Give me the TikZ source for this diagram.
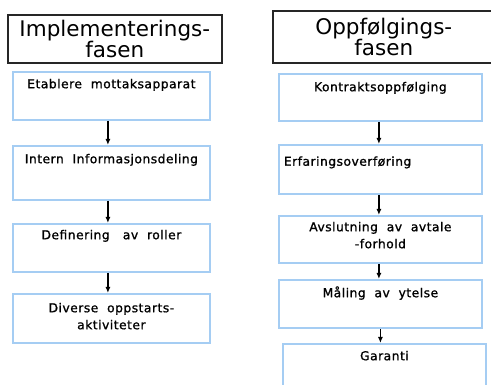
\documentclass[tikz,border=0pt]{standalone}
\usepackage{fontspec}
\setmainfont{DejaVu Sans}
\newfontfamily\stepfont{DejaVu Sans}[LetterSpace=4,FakeBold=1.2]
\usetikzlibrary{arrows.meta}
\definecolor{boxblue}{RGB}{165,205,243}
\tikzset{
  phasebox/.style={draw=black!85, line width=1.6pt, anchor=north west, align=center, inner sep=0pt, font=\fontsize{21.5}{21}\selectfont},
  stepbox/.style={draw=boxblue, line width=1.8pt, anchor=north west, inner sep=0pt, font=\stepfont\fontsize{12.3}{17}\selectfont},
  flow/.style={-{Latex[length=6pt,width=5pt]}, line width=1.2pt}
}
\newcommand{\steptxt}[4][8pt]{\parbox[t][#3][t]{#2}{\vspace*{#1}\centering #4}}
\begin{document}
\begin{tikzpicture}[x=1pt,y=-1pt]
\useasboundingbox (0,0) rectangle (491,385);
\node[phasebox, minimum width=214, minimum height=48] (impl) at (7,14) {Implementerings-\\fasen};
\node[phasebox, minimum width=222, minimum height=52] (oppf) at (272,10) {Oppfølgings-\\fasen};
% implementeringsfasen
\node[stepbox] (i1) at (12,71) {\steptxt[7pt]{197pt}{48pt}{Etablere\ \ mottaksapparat}};
\node[stepbox] (i2) at (12,145) {\steptxt[8pt]{197pt}{54pt}{Intern\ \ Informasjonsdeling}};
\node[stepbox] (i3) at (12,223) {\steptxt[6pt]{197pt}{48pt}{Definering\ \ \ av\ \ roller}};
\node[stepbox] (i4) at (12,293) {\steptxt[9pt]{197pt}{49pt}{Diverse\ \ oppstarts-\\aktiviteter}};
% oppfolgingsfasen
\node[stepbox] (o1) at (278,73) {\steptxt[8pt]{203pt}{47pt}{Kontraktsoppfølging}};
\node[stepbox] (o2) at (278,144) {\steptxt[11.5pt]{203pt}{49pt}{\raggedright\hspace*{5pt}Erfaringsoverføring}};
\node[stepbox] (o3) at (278,215) {\steptxt[6pt]{203pt}{47pt}{Avslutning\ \ av\ \ avtale\\-forhold}};
\node[stepbox] (o4) at (278,279) {\steptxt[6.5pt]{203pt}{48pt}{Måling\ \ av\ \ ytelse}};
\node[stepbox] (o5) at (282,343) {\steptxt[7pt]{203pt}{60pt}{Garanti}};
\foreach \a/\b in {i1/i2,i2/i3,i3/i4}
  \draw[flow] ([xshift=-3.5]\a.south) -- ([xshift=-3.5]\b.north);
\foreach \a/\b in {o1/o2,o2/o3,o3/o4}
  \draw[flow] ([xshift=-1.5]\a.south) -- ([xshift=-1.5]\b.north);
\draw[flow] (o4.south) -- (o4.south |- o5.north);
\end{tikzpicture}
\end{document}
